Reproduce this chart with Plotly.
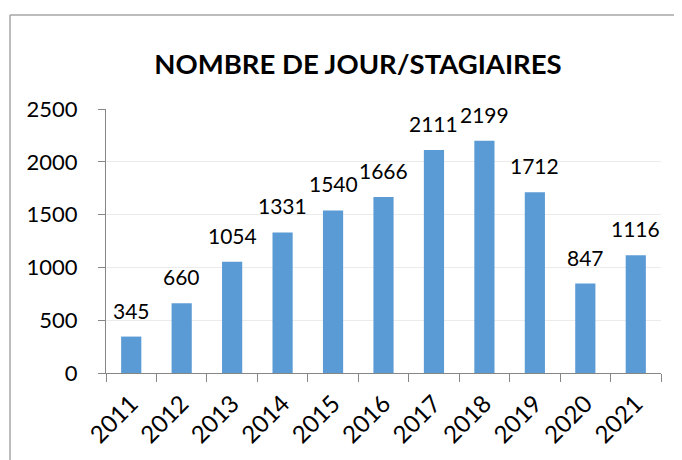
import plotly.graph_objects as go

years = ["2011", "2012", "2013", "2014", "2015", "2016", "2017", "2018", "2019", "2020", "2021"]
values = [345, 660, 1054, 1331, 1540, 1666, 2111, 2199, 1712, 847, 1116]
title_text = "NOMBRE DE JOUR/STAGIAIRES"

FONT = "Lato"
# the page places the figure 8px from the top-left corner (body margin)
OFF = 8
fig = go.Figure()
fig.add_trace(go.Bar(
    x=years, y=values,
    marker=dict(color="#5B9BD5", line=dict(width=0)),
    cliponaxis=False,
    width=0.4,
))

# value labels above the bars (category index on the category axis)
for i, v in enumerate(values):
    fig.add_annotation(x=i, y=v, xref="x", yref="y", text=str(v),
                       showarrow=False, yanchor="bottom", xanchor="center",
                       yshift=12, font=dict(family=FONT, size=21, color="#000000"))

L, R, T, B = 106 - OFF, 682 - (661 - OFF), 109 - OFF, 460 - (373 - OFF)
fig.update_layout(
    width=682, height=460,
    margin=dict(l=L, r=R, t=T, b=B, autoexpand=False),
    paper_bgcolor="white", plot_bgcolor="white",
    showlegend=False,
    title=dict(text="<b>" + title_text + "</b>", x=(358 - OFF) / 682, xanchor="center",
               y=1 - (64 - OFF) / 460, yanchor="middle",
               font=dict(family=FONT, size=27.5, color="#000000")),
    font=dict(family=FONT, color="#000000"),
)
fig.update_xaxes(
    type="category", range=[-0.5, len(years) - 0.5],
    tickson="boundaries", ticks="outside", ticklen=8,
    tickcolor="#868686", showline=True, linecolor="#868686", linewidth=1,
    tickangle=-45, tickfont=dict(family=FONT, size=24, color="#000000"),
    ticklabelstandoff=6,
    showgrid=False, automargin=False,
)
fig.update_yaxes(
    range=[0, 2500], dtick=500, ticks="outside", ticklen=7, tickcolor="#868686",
    showline=True, linecolor="#868686", linewidth=1,
    showgrid=True, gridcolor="#EBEBEB", gridwidth=1, zeroline=False,
    tickfont=dict(family=FONT, size=22, color="#000000"), ticklabelstandoff=16,
    automargin=False,
)

# chart border (left and top edges visible), given in page pixels
px_w, px_h = 555.0, 264.0
def px(x):
    return (x - 106) / px_w
def py(y):
    return (373 - y) / px_h
fig.add_shape(type="line", xref="paper", yref="paper",
              x0=px(10), x1=px(10), y0=py(15), y1=py(480),
              line=dict(color="#A6A6A6", width=1.5))
fig.add_shape(type="line", xref="paper", yref="paper",
              x0=px(10), x1=px(678), y0=py(15), y1=py(15),
              line=dict(color="#A6A6A6", width=1.5))

fig.write_html("out.html")
